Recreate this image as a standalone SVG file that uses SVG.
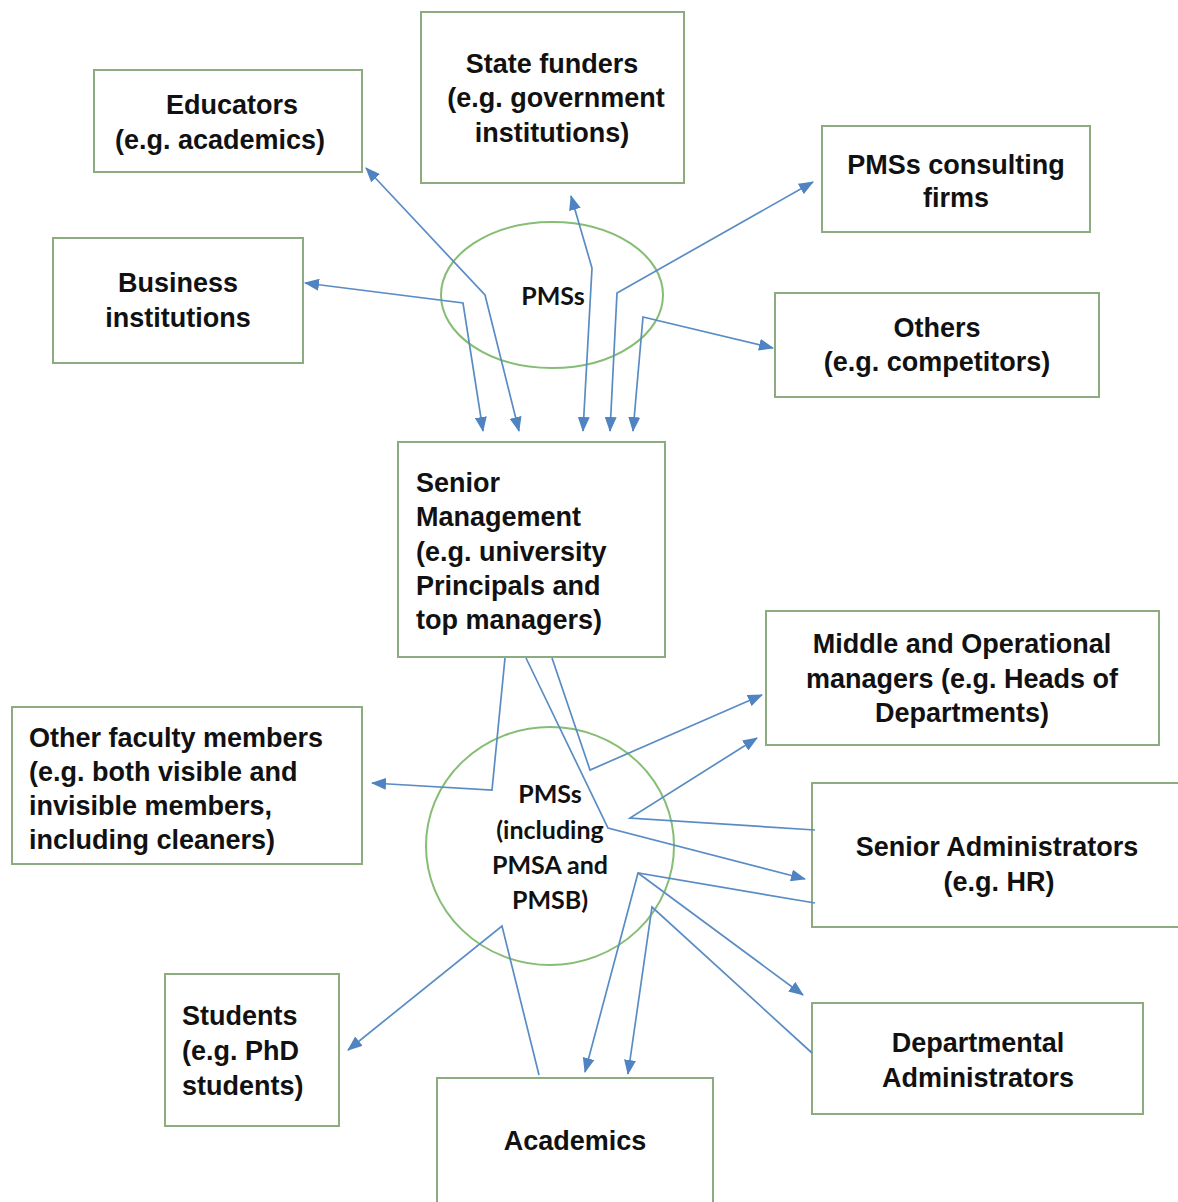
<svg xmlns="http://www.w3.org/2000/svg" width="1178" height="1202" viewBox="0 0 1178 1202">
<style>
.box{fill:#fff;stroke:#8cab7f;stroke-width:2}
.ell{fill:none;stroke:#86bd74;stroke-width:2}
.t{font-family:"Liberation Sans",Arial,sans-serif;font-weight:bold;font-size:27px;fill:#111}
.c{text-anchor:middle}
.p{font-family:Lato,"Liberation Sans",sans-serif;font-weight:bold;font-size:25px;fill:#111;text-anchor:middle}
.ln{fill:none;stroke:#5a8cc4;stroke-width:1.7}
.both{marker-start:url(#ah);marker-end:url(#ah)}
.end{marker-end:url(#ah)}
</style>
<defs>
<marker id="ah" viewBox="0 0 15 12" refX="14" refY="6" markerWidth="15" markerHeight="12" markerUnits="userSpaceOnUse" orient="auto-start-reverse">
<path d="M0,0 L15,6 L0,12 z" fill="#4f83c2"/>
</marker>
</defs>
<rect width="1178" height="1202" fill="#fff"/>

<g id="educators">
<rect class="box" x="94" y="70" width="268" height="102"/>
<text class="t c" x="232" y="114">Educators</text>
<text class="t c" x="220" y="149">(e.g. academics)</text>
</g>
<g id="state-funders">
<rect class="box" x="421" y="12" width="263" height="171"/>
<text class="t c" x="552" y="73">State funders</text>
<text class="t c" x="556" y="107">(e.g. government</text>
<text class="t c" x="552" y="142">institutions)</text>
</g>
<g id="consulting">
<rect class="box" x="822" y="126" width="268" height="106"/>
<text class="t c" x="956" y="174">PMSs consulting</text>
<text class="t c" x="956" y="207">firms</text>
</g>
<g id="business">
<rect class="box" x="53" y="238" width="250" height="125"/>
<text class="t c" x="178" y="292">Business</text>
<text class="t c" x="178" y="327">institutions</text>
</g>
<g id="others">
<rect class="box" x="775" y="293" width="324" height="104"/>
<text class="t c" x="937" y="337">Others</text>
<text class="t c" x="937" y="371">(e.g. competitors)</text>
</g>
<g id="pms-top">
<ellipse class="ell" cx="552" cy="295" rx="111" ry="73"/>
<text class="p" x="553" y="305">PMSs</text>
</g>
<g id="senior-management">
<rect class="box" x="398" y="442" width="267" height="215"/>
<text class="t" x="416" y="492">Senior</text>
<text class="t" x="416" y="526">Management</text>
<text class="t" x="416" y="561">(e.g. university</text>
<text class="t" x="416" y="595">Principals and</text>
<text class="t" x="416" y="629">top managers)</text>
</g>
<g id="middle-managers">
<rect class="box" x="766" y="611" width="393" height="134"/>
<text class="t c" x="962" y="653">Middle and Operational</text>
<text class="t c" x="962" y="688">managers (e.g. Heads of</text>
<text class="t c" x="962" y="722">Departments)</text>
</g>
<g id="other-faculty">
<rect class="box" x="12" y="707" width="350" height="157"/>
<text class="t" x="29" y="747">Other faculty members</text>
<text class="t" x="29" y="781">(e.g. both visible and</text>
<text class="t" x="29" y="815">invisible members,</text>
<text class="t" x="29" y="849">including cleaners)</text>
</g>
<g id="pms-bottom">
<ellipse class="ell" cx="550" cy="846" rx="124" ry="119"/>
<text class="p" x="550" y="803">PMSs</text>
<text class="p" x="550" y="839">(including</text>
<text class="p" x="550" y="874">PMSA and</text>
<text class="p" x="550" y="909">PMSB)</text>
</g>
<g id="senior-admin">
<rect class="box" x="812" y="783" width="372" height="144"/>
<text class="t c" x="997" y="856">Senior Administrators</text>
<text class="t c" x="999" y="891">(e.g. HR)</text>
</g>
<g id="students">
<rect class="box" x="165" y="974" width="174" height="152"/>
<text class="t" x="182" y="1025">Students</text>
<text class="t" x="182" y="1060">(e.g. PhD</text>
<text class="t" x="182" y="1095">students)</text>
</g>
<g id="departmental-admin">
<rect class="box" x="812" y="1003" width="331" height="111"/>
<text class="t c" x="978" y="1052">Departmental</text>
<text class="t c" x="978" y="1087">Administrators</text>
</g>
<g id="academics">
<rect class="box" x="437" y="1078" width="276" height="140"/>
<text class="t c" x="575" y="1150">Academics</text>
</g>

<g id="connectors">
<path class="ln both" d="M305,283 L463,303 L483,431"/>
<path class="ln both" d="M366,168 L485,295 L519,431"/>
<path class="ln both" d="M571,196 L592,268 L583,431"/>
<path class="ln both" d="M813,182 L617,293 L610,431"/>
<path class="ln both" d="M773,348 L643,317 L633,431"/>
<path class="ln end" d="M505,658 L492,790 L372,783"/>
<path class="ln end" d="M526,658 L608,828 L805,879"/>
<path class="ln end" d="M552,658 L590,770 L762,695"/>
<path class="ln end" d="M815,830 L630,818 L757,738"/>
<path class="ln end" d="M815,903 L638,873 L585,1072"/>
<path class="ln end" d="M638,873 L803,995"/>
<path class="ln end" d="M812,1053 L652,907 L628,1074"/>
<path class="ln end" d="M539,1075 L502,926 L348,1050"/>
</g>
</svg>
